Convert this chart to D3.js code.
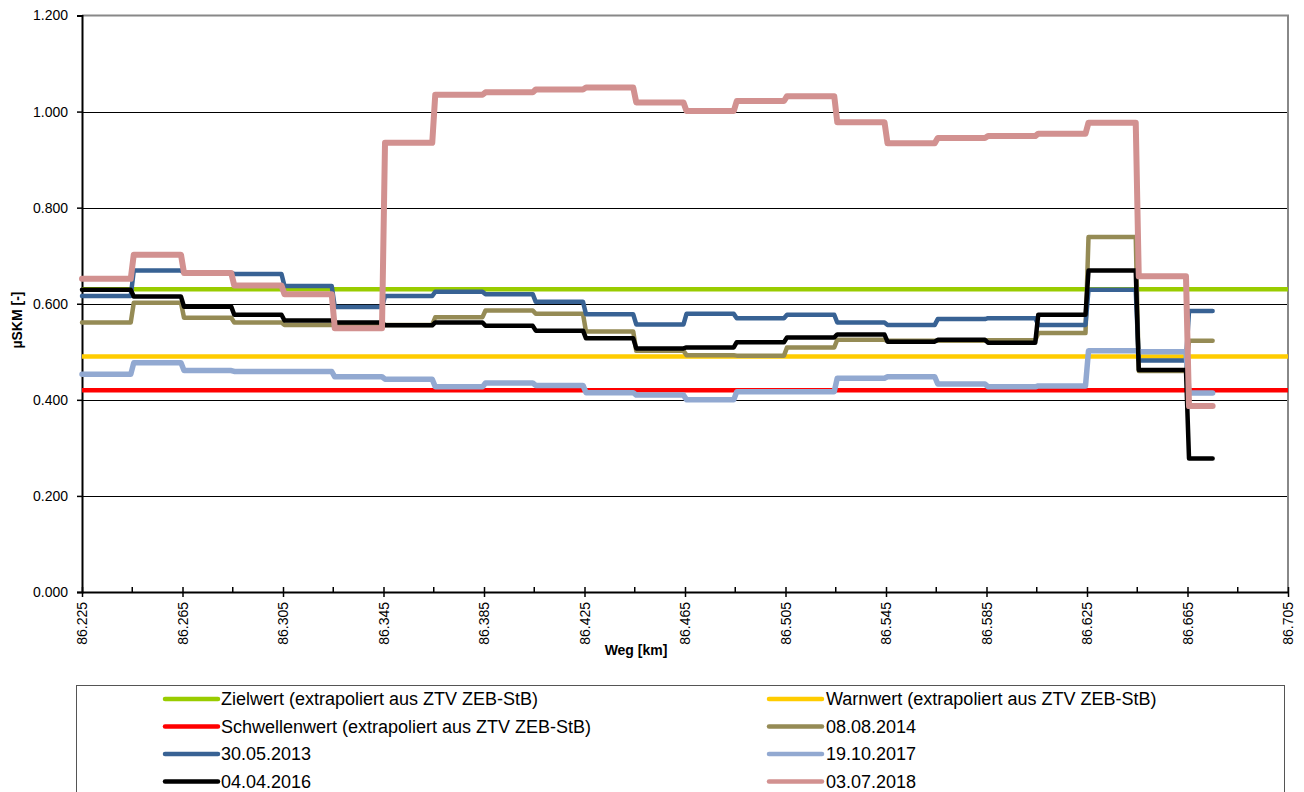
<!DOCTYPE html>
<html>
<head>
<meta charset="utf-8">
<script src="https://cdn.jsdelivr.net/npm/d3@7"></script>
<style>
  html, body { margin: 0; padding: 0; background: #fff; }
  svg { display: block; font-family: "Liberation Sans", Arial, sans-serif; }
</style>
</head>
<body>
<svg id="chart" width="1304" height="792"></svg>
<script>
// ---- DATA ----
const segStarts = [86.225, 86.245, 86.265, 86.285, 86.305, 86.325, 86.345, 86.365, 86.385, 86.405,
                   86.425, 86.445, 86.465, 86.485, 86.505, 86.525, 86.545, 86.565, 86.585, 86.605,
                   86.625, 86.645, 86.665];
const segEnd = 86.675;

const s20130530 = [0.616, 0.669, 0.664, 0.662, 0.637, 0.593, 0.616, 0.625, 0.620, 0.604,
                   0.578, 0.557, 0.579, 0.570, 0.577, 0.561, 0.556, 0.568, 0.570, 0.556,
                   0.629, 0.482, 0.585];
const s20140808 = [0.561, 0.602, 0.571, 0.561, 0.556, 0.555, 0.556, 0.572, 0.586, 0.579,
                   0.542, 0.502, 0.493, 0.492, 0.509, 0.525, 0.523, 0.523, 0.524, 0.539,
                   0.739, 0.460, 0.523];
const s20160404 = [0.629, 0.615, 0.594, 0.577, 0.565, 0.561, 0.555, 0.561, 0.554, 0.544,
                   0.528, 0.507, 0.509, 0.520, 0.530, 0.536, 0.521, 0.525, 0.519, 0.577,
                   0.669, 0.462, 0.278];
const s20171019 = [0.453, 0.477, 0.461, 0.459, 0.459, 0.448, 0.443, 0.427, 0.435, 0.430,
                   0.415, 0.410, 0.400, 0.417, 0.417, 0.445, 0.448, 0.433, 0.427, 0.429,
                   0.502, 0.500, 0.414];
const s20180703 = [0.652, 0.702, 0.664, 0.638, 0.620, 0.549, 0.935, 1.035, 1.040, 1.046,
                   1.050, 1.019, 1.001, 1.022, 1.032, 0.978, 0.934, 0.945, 0.949, 0.954,
                   0.977, 0.657, 0.387];

const zielwert = 0.630;
const warnwert = 0.490;
const schwellenwert = 0.420;

const xTickLabels = ["86.225", "86.265", "86.305", "86.345", "86.385", "86.425", "86.465",
                     "86.505", "86.545", "86.585", "86.625", "86.665", "86.705"];
const xMinorTicks = [86.245, 86.285, 86.325, 86.365, 86.405, 86.445, 86.485, 86.525, 86.565,
                     86.605, 86.645, 86.685];
const yTickLabels = ["0.000", "0.200", "0.400", "0.600", "0.800", "1.000", "1.200"];

const seriesNames = ["Zielwert (extrapoliert aus ZTV ZEB-StB)", "Warnwert (extrapoliert aus ZTV ZEB-StB)",
                     "Schwellenwert (extrapoliert aus ZTV ZEB-StB)", "08.08.2014", "30.05.2013",
                     "19.10.2017", "04.04.2016", "03.07.2018"];

// ---- LAYOUT ----
const plotL = 82, plotR = 1288, plotT = 15.5, plotB = 592;
const x = d3.scaleLinear().domain([86.225, 86.705]).range([plotL, plotR]);
const y = d3.scaleLinear().domain([0, 1.2]).range([plotB, plotT]);

const svg = d3.select("#chart");

// gridlines
svg.append("g").selectAll("line")
  .data(yTickLabels.map(Number).filter(v => v > 0 && v < 1.2))
  .join("line")
  .attr("x1", plotL).attr("x2", plotR)
  .attr("y1", d => Math.round(y(d)) + 0.5).attr("y2", d => Math.round(y(d)) + 0.5)
  .attr("stroke", "#000").attr("stroke-width", 1);

// top and right border
svg.append("line").attr("x1", plotL).attr("x2", plotR + 1).attr("y1", y(1.2)).attr("y2", y(1.2))
  .attr("stroke", "#888").attr("stroke-width", 2);
svg.append("line").attr("x1", plotR).attr("x2", plotR).attr("y1", y(1.2)).attr("y2", plotB)
  .attr("stroke", "#888").attr("stroke-width", 2);

// Y axis
const yAxis = d3.axisLeft(y).tickValues(yTickLabels.map(Number))
  .tickFormat((d, i) => yTickLabels[i]).tickSize(5).tickPadding(9);
const gy = svg.append("g").attr("transform", `translate(${plotL},0)`).call(yAxis);
gy.select(".domain").attr("stroke", "#000").attr("stroke-width", 2);
gy.selectAll(".tick line").attr("stroke", "#000").attr("stroke-width", 1.5);
gy.selectAll(".tick text").attr("font-size", 14).attr("fill", "#000")
  .attr("font-family", '"Liberation Sans", Arial, sans-serif');

// X axis
const xAxis = d3.axisBottom(x).tickValues(xTickLabels.map(Number))
  .tickFormat((d, i) => xTickLabels[i]).tickSizeInner(5).tickSizeOuter(0);
const gx = svg.append("g").attr("transform", `translate(0,${plotB})`).call(xAxis);
gx.select(".domain").attr("stroke", "#000").attr("stroke-width", 2);
gx.selectAll(".tick line").attr("stroke", "#000").attr("stroke-width", 1.5).attr("y1", -5);
gx.selectAll(".tick text")
  .attr("font-size", 14).attr("fill", "#000")
  .attr("font-family", '"Liberation Sans", Arial, sans-serif')
  .attr("transform", "rotate(-90)")
  .attr("text-anchor", "end")
  .attr("x", -10).attr("y", 0).attr("dy", "0.35em");
// minor ticks (inside)
svg.append("g").selectAll("line").data(xMinorTicks).join("line")
  .attr("x1", d => x(d)).attr("x2", d => x(d))
  .attr("y1", plotB).attr("y2", plotB - 5)
  .attr("stroke", "#000").attr("stroke-width", 1.5);

// axis titles
svg.append("text").attr("x", 636).attr("y", 655).attr("text-anchor", "middle")
  .attr("font-size", 14).attr("font-weight", "bold").text("Weg [km]");
svg.append("text").attr("transform", "translate(22,320) rotate(-90)").attr("text-anchor", "middle")
  .attr("font-size", 14).attr("font-weight", "bold").text("µSKM [-]");

// ---- SERIES ----
const h = 0.0006;
function stepPoints(vals) {
  const pts = [];
  const n = vals.length;
  for (let i = 0; i < n; i++) {
    const x0 = i === 0 ? segStarts[0] : segStarts[i] + h;
    const x1 = i === n - 1 ? segEnd : segStarts[i + 1] - h;
    pts.push([x0, vals[i]], [x1, vals[i]]);
  }
  return pts;
}
const line = d3.line().x(d => x(d[0])).y(d => y(d[1]));

const thresholds = [
  { name: seriesNames[0], v: zielwert, color: "#99CC00", w: 4.5 },
  { name: seriesNames[1], v: warnwert, color: "#FFCC00", w: 4.5 },
  { name: seriesNames[2], v: schwellenwert, color: "#FF0000", w: 4.5 }
];
const series = [
  { name: seriesNames[3], vals: s20140808, color: "#958B55", w: 4.5 },
  { name: seriesNames[4], vals: s20130530, color: "#386294", w: 4.5 },
  { name: seriesNames[5], vals: s20171019, color: "#92A9D1", w: 5.5 },
  { name: seriesNames[6], vals: s20160404, color: "#000000", w: 4.5 },
  { name: seriesNames[7], vals: s20180703, color: "#D29190", w: 6 }
];

svg.append("g").selectAll("path").data(thresholds).join("path")
  .attr("d", d => line([[86.225, d.v], [86.705, d.v]]))
  .attr("fill", "none").attr("stroke", d => d.color).attr("stroke-width", d => d.w);

svg.append("g").selectAll("path").data(series).join("path")
  .attr("d", d => line(stepPoints(d.vals)))
  .attr("fill", "none").attr("stroke", d => d.color).attr("stroke-width", d => d.w)
  .attr("stroke-linejoin", "round").attr("stroke-linecap", "round");

// ---- LEGEND ----
const legendItems = [...thresholds, ...series];
svg.append("rect").attr("x", 76.5).attr("y", 685.5).attr("width", 1208).attr("height", 140)
  .attr("fill", "none").attr("stroke", "#555").attr("stroke-width", 1);
const colX = [[165, 218, 221], [769, 822, 826]];
const rowY = [699, 726.5, 754, 781.5];
const lg = svg.append("g").selectAll("g").data(legendItems).join("g")
  .attr("transform", (d, i) => `translate(0,${rowY[Math.floor(i / 2)]})`);
lg.append("line")
  .attr("x1", (d, i) => colX[i % 2][0]).attr("x2", (d, i) => colX[i % 2][1])
  .attr("y1", 0).attr("y2", 0)
  .attr("stroke", d => d.color).attr("stroke-width", 4.5).attr("stroke-linecap", "round");
lg.append("text")
  .attr("x", (d, i) => colX[i % 2][2]).attr("y", 0).attr("dy", "0.35em")
  .attr("font-size", 18).attr("fill", "#000").text(d => d.name);
</script>
</body>
</html>
